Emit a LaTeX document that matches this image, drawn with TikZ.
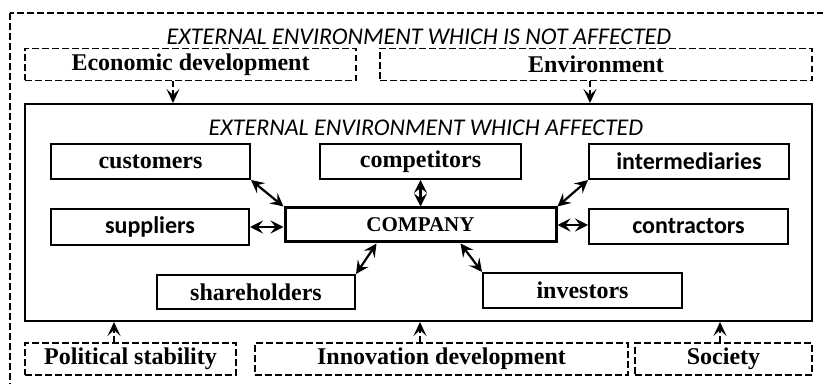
\documentclass[tikz,border=0pt]{standalone}
\usepackage{fontspec}
\setmainfont{Liberation Serif}
\newfontfamily\calibri{Carlito}
\usetikzlibrary{arrows.meta}

\begin{document}
\begin{tikzpicture}[x=0.5pt, y=-0.5pt,
		every node/.style={inner sep=0pt},
		unit/.style={draw, line width=1pt, minimum height=17.5pt, font=\fontsize{12}{14}\selectfont\bfseries},
		sansunit/.style={unit, font=\fontsize{12}{14}\selectfont\calibri\bfseries},
		factor/.style={draw, dash pattern=on 3.3pt off 1.7pt, line width=0.8pt, minimum height=16pt, font=\fontsize{12}{14}\selectfont\bfseries},
		heading/.style={font=\fontsize{12}{14}\selectfont\calibri\itshape},
		link/.style={line width=1.1pt, {Stealth[length=6.5pt,width=6.5pt,inset=2.5pt]}-{Stealth[length=6.5pt,width=6.5pt,inset=2.5pt]}},
		influence/.style={line width=0.8pt, dash pattern=on 3pt off 1.5pt, -{Stealth[length=7pt,width=6.5pt,inset=3pt]}}]
		\useasboundingbox (0,0) rectangle (823,384);
		\clip (0,0) rectangle (823,384);
		\draw[line width=0.7pt, dash pattern=on 3.3pt off 1.7pt] (10,13) rectangle (840,400);
		\node[heading] (top head) at (419,37) {EXTERNAL ENVIRONMENT WHICH IS NOT AFFECTED};
		\node[factor, minimum width=165.5pt] (econ) at (190.5,64.5) {Economic development};
		\node[factor, minimum width=216pt] (env) at (596,64.5) {Environment};
		\node[draw, line width=1pt, minimum width=393.5pt, minimum height=108.5pt] (inner) at (418.5,212.5) {};
		\node[heading] (in head) at (426,128) {EXTERNAL ENVIRONMENT WHICH AFFECTED};
		\node[unit, minimum width=99.5pt] (customers) at (150.5,161.5) {customers};
		\node[unit, minimum width=100.5pt] (competitors) at (420.5,161.5) {competitors};
		\node[sansunit, minimum width=100pt] (intermediaries) at (689,161.5) {intermediaries};
		\node[sansunit, minimum width=99pt, minimum height=18pt] (suppliers) at (150,227) {suppliers};
		\node[unit, line width=1.5pt, minimum width=135.5pt, minimum height=17pt, font=\fontsize{10.5}{12}\selectfont\bfseries] (company) at (420.5,225) {COMPANY};
		\node[sansunit, minimum width=99.5pt] (contractors) at (688.5,226.5) {contractors};
		\node[unit, minimum width=99pt, minimum height=17pt] (shareholders) at (256,292) {shareholders};
		\node[unit, minimum width=99.5pt] (investors) at (582.5,290.5) {investors};
		\node[factor, minimum width=105.5pt] (political) at (130.5,359) {Political stability};
		\node[factor, minimum width=186.5pt] (innovation) at (441.5,359) {Innovation development};
		\node[factor, minimum width=88.5pt] (society) at (723.5,359) {Society};
		\draw[link] (customers.south east) -- (company.north west);
		\draw[link] (competitors.south) -- (company.north);
		\draw[link] (intermediaries.south west) -- (company.north east);
		\draw[link] (suppliers.east) -- (suppliers.east -| company.west);
		\draw[link] (company.east) -- (company.east -| contractors.west);
		\coordinate (sh end) at ([xshift=46.5pt]company.south west);
		\coordinate (inv end) at ([xshift=88.5pt]company.south west);
		\draw[link] (sh end) -- (shareholders.north east);
		\draw[link] (inv end) -- (investors.north west);
		\coordinate (econ out) at ([xshift=-8.75pt]econ.south);
		\coordinate (env out) at ([xshift=-3pt]env.south);
		\coordinate (pol out) at ([xshift=-8.25pt]political.north);
		\coordinate (inn out) at ([xshift=-10.75pt]innovation.north);
		\coordinate (soc out) at ([xshift=-1.75pt]society.north);
		\draw[influence] (econ out) -- (econ out |- inner.north);
		\draw[influence] (env out) -- (env out |- inner.north);
		\draw[influence] (pol out) -- (pol out |- inner.south);
		\draw[influence] (inn out) -- (inn out |- inner.south);
		\draw[influence] (soc out) -- (soc out |- inner.south);
	\end{tikzpicture}
\end{document}
